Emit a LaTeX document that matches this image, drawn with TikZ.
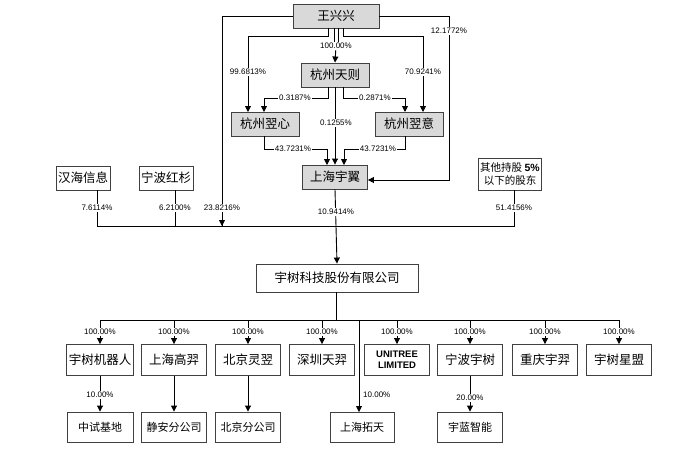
\documentclass[tikz,border=0pt]{standalone}
\usepackage{fontspec}
\setmainfont{Liberation Sans}
\newfontfamily\cjk{Noto Sans CJK SC}
\usetikzlibrary{arrows.meta}
\begin{document}
\begin{tikzpicture}[x=1pt,y=-1pt,
  box/.style={draw=black!75,line width=0.9pt,minimum height=24pt,inner sep=2pt,font=\cjk\fontsize{12.5}{14}\selectfont},
  gbox/.style={box,fill=black!15},
  pct/.style={fill=white,inner sep=1pt,font=\fontsize{8}{9}\selectfont},
  ln/.style={line width=0.9pt},
  ar/.style={ln,-{Triangle[length=6pt,width=6pt]}}]
\useasboundingbox (0,0) rectangle (690,452);
\node[gbox,minimum width=86pt] (w) at (336,16) {王兴兴};
\node[gbox,minimum width=68pt] (tz) at (335,75) {杭州天则};
\node[gbox,minimum width=68pt] (yx) at (265,124) {杭州翌心};
\node[gbox,minimum width=68pt] (yy) at (409,124) {杭州翌意};
\node[gbox,minimum width=65pt] (sy) at (335,177) {上海宇翼};
\node[box,minimum width=52pt] (hh) at (83,178) {汉海信息};
\node[box,minimum width=52pt] (nb) at (166,178) {宁波红杉};
\node[box,minimum width=62pt,minimum height=32pt,align=center,font=\cjk\fontsize{10.5}{13}\selectfont] (qt) at (510,174) {其他持股 \textbf{\fontspec{Liberation Sans}5\%}\\以下的股东};
\node[box,minimum width=162pt,minimum height=28pt] (ys) at (337,278) {宇树科技股份有限公司};
% top connections
\draw[ln] (w.west) -- (222,16) coordinate (lc) -- (222,226) coordinate (lb);
\draw[ar] (222,200) -- (lb);
\node[pct] at (222,208) {23.8216\%};
\draw[ar] (w.east) -- (449,16) -- (449,180) -- (sy.east|-0,180);
\node[pct] at (449,31) {12.1772\%};
\draw[ar] (328,28) -- (328,36) -- (248,36) -- (248,112);
\node[pct] at (248,72) {99.6813\%};
\draw[ln] (334,28) -- (334,46); \draw[ln] (338,28) -- (338,46);
\draw[ar] (336,46) -- (tz.north);
\node[pct] at (336,46) {100.00\%};
\draw[ar] (343,28) -- (343,36) -- (423,36) -- (423,112);
\node[pct] at (423,72) {70.9241\%};
\draw[ar] (328,87) -- (328,98) -- (264,98) -- (264,112);
\node[pct] at (295,98) {0.3187\%};
\draw[ar] (343,87) -- (343,98) -- (405,98) -- (405,112);
\node[pct] at (375,98) {0.2871\%};
\draw[ar] (tz.south) -- (sy.north);
\node[pct] at (336,123) {0.1255\%};
\draw[ar] (264,136) -- (264,149) -- (327,149) -- (327,165);
\node[pct] at (293,149) {43.7231\%};
\draw[ar] (405,136) -- (405,149) -- (344,149) -- (344,165);
\node[pct] at (378,149) {43.7231\%};
% shareholders bus
\draw[ln] (97,190) -- (97,226) -- (514,226) -- (514,190);
\draw[ln] (175,190) -- (175,226);
\node[pct] at (97,208) {7.6114\%};
\node[pct] at (175,208) {6.2100\%};
\node[pct] at (514,208) {51.4156\%};
\draw[ar] (sy.south) -- (ys.north);
\node[pct] at (336,212) {10.9414\%};
% subsidiaries
\draw[ln] (336,292) -- (336,320);
\draw[ln] (100,328) -- (100,320) -- (619,320) -- (619,328);
\foreach \n/\x/\t in {a/100/宇树机器人,b/174/上海高羿,c/248/北京灵翌,d/322/深圳天羿,f/470/宁波宇树,g/545/重庆宇羿,h/619/宇树星盟}{
  \node[box,minimum width=65pt,minimum height=31pt] (\n) at (\x,360) {\t};
  \draw[ar] (\x,320) -- (\n.north);
  \node[pct] at (\x,332) {100.00\%};
}
\node[box,minimum width=65pt,minimum height=31pt,align=center,font=\bfseries\fontsize{9.5}{11}\selectfont] (e) at (397,360) {UNITREE\\LIMITED};
\draw[ar] (397,320) -- (e.north);
\node[pct] at (397,332) {100.00\%};
\node[box,minimum width=66pt,minimum height=30pt,font=\cjk\fontsize{11}{13}\selectfont] (a2) at (100,427) {中试基地};
\node[box,minimum width=65pt,minimum height=30pt,font=\cjk\fontsize{11}{13}\selectfont] (b2) at (174,427) {静安分公司};
\node[box,minimum width=65pt,minimum height=30pt,font=\cjk\fontsize{11}{13}\selectfont] (c2) at (248,427) {北京分公司};
\node[box,minimum width=64pt,minimum height=30pt,font=\cjk\fontsize{11}{13}\selectfont] (st) at (362,427) {上海拓天};
\node[box,minimum width=65pt,minimum height=30pt,font=\cjk\fontsize{11}{13}\selectfont] (f2) at (470,427) {宇蓝智能};
\draw[ar] (a) -- (a2); \node[pct] at (100,395) {10.00\%};
\draw[ar] (b) -- (b2);
\draw[ar] (c) -- (c2);
\draw[ar] (f) -- (f2); \node[pct] at (470,398) {20.00\%};
\draw[ar] (359,320) -- (359,412);
\node[pct,anchor=west] at (362,395) {10.00\%};
\end{tikzpicture}
\end{document}
